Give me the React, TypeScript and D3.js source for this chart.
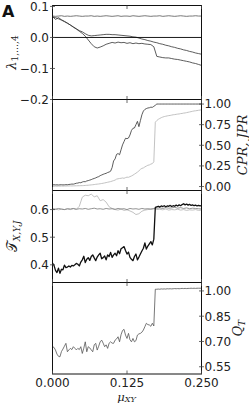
import React from "react";
import * as d3 from "d3";

// sampling grids of the coupling strength mu_XY
const MU_FINE = d3.range(101).map((i) => i * 0.0025);
const MU_COARSE = d3.range(51).map((i) => i * 0.005);

const X_TICKS = [0, 0.125, 0.25];
const LAMBDA_TICKS = [0.1, 0, -0.1, -0.2];
const PR_TICKS = [0, 0.25, 0.5, 0.75, 1];
const TAU_TICKS = [0.4, 0.5, 0.6];
const Q_TICKS = [0.55, 0.7, 0.85, 1];

// panel 1: Lyapunov exponents (coarse grid)
const LAMBDA1 = [
  0.069, 0.068, 0.069, 0.070, 0.068, 0.069, 0.068, 0.069, 0.070, 0.069,
  0.068, 0.069, 0.069, 0.070, 0.068, 0.069, 0.068, 0.069, 0.070, 0.069,
  0.068, 0.069, 0.070, 0.068, 0.069, 0.069, 0.068, 0.070, 0.069, 0.068,
  0.069, 0.070, 0.069, 0.068, 0.069, 0.069, 0.070, 0.068, 0.069, 0.070,
  0.069, 0.068, 0.069, 0.070, 0.069, 0.068, 0.069, 0.069, 0.070, 0.069, 0.069,
];
const LAMBDA2 = 0;
const LAMBDA3 = [
  0.066, 0.064, 0.060, 0.056, 0.051, 0.046, 0.040, 0.034, 0.028, 0.022,
  0.018, 0.012, 0.007, 0.005, 0.006, 0.007, 0.008, 0.009, 0.010, 0.010,
  0.009, 0.009, 0.008, 0.007, 0.006, 0.005, 0.004, 0.002, 0.001, -0.002,
  -0.005, -0.007, -0.010, -0.012, -0.015, -0.017, -0.020, -0.022, -0.025, -0.027,
  -0.030, -0.032, -0.035, -0.037, -0.040, -0.042, -0.045, -0.047, -0.050, -0.052, -0.054,
];
const LAMBDA4 = [
  0.068, 0.058, 0.064, 0.057, 0.052, 0.046, 0.040, 0.033, 0.027, 0.020,
  0.013, 0.004, -0.008, -0.020, -0.030, -0.034, -0.031, -0.027, -0.022, -0.019,
  -0.016, -0.018, -0.015, -0.017, -0.016, -0.019, -0.017, -0.020, -0.018, -0.020,
  -0.019, -0.021, -0.022, -0.023, -0.030, -0.061, -0.063, -0.065, -0.066, -0.066,
  -0.068, -0.070, -0.071, -0.073, -0.075, -0.077, -0.079, -0.082, -0.084, -0.087, -0.090,
];

// panel 2: phase relations (fine grid)
const CPR = [
  0.020, 0.022, 0.020, 0.021, 0.019, 0.021, 0.022, 0.020, 0.021, 0.023,
  0.022, 0.025, 0.027, 0.030, 0.029, 0.034, 0.040, 0.042, 0.048, 0.046,
  0.055, 0.060, 0.058, 0.068, 0.072, 0.078, 0.084, 0.092, 0.098, 0.105,
  0.114, 0.120, 0.132, 0.140, 0.148, 0.155, 0.160, 0.170, 0.176, 0.186,
  0.230, 0.310, 0.335, 0.390, 0.400, 0.385, 0.445, 0.505, 0.545, 0.585,
  0.580, 0.588, 0.625, 0.680, 0.706, 0.710, 0.750, 0.790, 0.726, 0.800,
  0.870, 0.915, 0.935, 0.945, 0.952, 0.955, 0.962, 0.960, 0.972, 0.985,
  1.000, 1.000, 1.000, 1.000, 1.000, 1.000, 1.000, 1.000, 1.000, 1.000,
  1.000, 1.000, 1.000, 1.000, 1.000, 1.000, 1.000, 1.000, 1.000, 1.000,
  1.000, 1.000, 1.000, 1.000, 1.000, 1.000, 1.000, 1.000, 1.000, 1.000, 1.000,
];
const JPR = [
  0.004, 0.004, 0.005, 0.004, 0.005, 0.005, 0.006, 0.005, 0.006, 0.006,
  0.007, 0.007, 0.008, 0.007, 0.008, 0.009, 0.009, 0.010, 0.010, 0.011,
  0.011, 0.012, 0.013, 0.015, 0.016, 0.018, 0.020, 0.022, 0.024, 0.027,
  0.029, 0.031, 0.034, 0.037, 0.040, 0.044, 0.048, 0.052, 0.056, 0.060,
  0.066, 0.072, 0.078, 0.090, 0.094, 0.098, 0.100, 0.104, 0.100, 0.108,
  0.114, 0.112, 0.120, 0.128, 0.138, 0.150, 0.162, 0.175, 0.190, 0.208,
  0.220, 0.226, 0.238, 0.248, 0.258, 0.262, 0.272, 0.278, 0.300, 0.780,
  0.800, 0.815, 0.825, 0.835, 0.842, 0.848, 0.852, 0.856, 0.860, 0.862,
  0.866, 0.870, 0.872, 0.875, 0.878, 0.880, 0.884, 0.886, 0.890, 0.892,
  0.896, 0.900, 0.904, 0.908, 0.912, 0.916, 0.918, 0.921, 0.924, 0.927, 0.930,
];

// panel 3: tau for X, Y (coarse) and joint J (fine)
const TAU_X = [
  0.603, 0.601, 0.604, 0.602, 0.600, 0.603, 0.602, 0.604, 0.601, 0.603,
  0.602, 0.604, 0.601, 0.603, 0.605, 0.602, 0.603, 0.601, 0.604, 0.602,
  0.603, 0.601, 0.604, 0.602, 0.603, 0.600, 0.604, 0.602, 0.603, 0.601,
  0.604, 0.602, 0.603, 0.601, 0.603, 0.605, 0.606, 0.604, 0.607, 0.605,
  0.606, 0.608, 0.605, 0.607, 0.604, 0.606, 0.603, 0.605, 0.604, 0.603, 0.602,
];
const TAU_Y = [
  0.600, 0.602, 0.599, 0.601, 0.600, 0.602, 0.600, 0.603, 0.601, 0.612,
  0.645, 0.652, 0.650, 0.656, 0.646, 0.650, 0.632, 0.636, 0.627, 0.610,
  0.604, 0.600, 0.598, 0.602, 0.597, 0.599, 0.595, 0.590, 0.582, 0.585,
  0.594, 0.598, 0.600, 0.603, 0.604, 0.600, 0.601, 0.599, 0.602, 0.598,
  0.600, 0.599, 0.601, 0.598, 0.600, 0.597, 0.599, 0.598, 0.600, 0.597, 0.598,
];
const TAU_J = [
  0.406, 0.398, 0.380, 0.372, 0.388, 0.369, 0.384, 0.382, 0.399, 0.390,
  0.392, 0.396, 0.392, 0.398, 0.396, 0.400, 0.405, 0.402, 0.396, 0.410,
  0.418, 0.431, 0.408, 0.420, 0.426, 0.416, 0.430, 0.436, 0.425, 0.415,
  0.428, 0.436, 0.442, 0.422, 0.426, 0.432, 0.418, 0.436, 0.430, 0.445,
  0.427, 0.436, 0.442, 0.433, 0.451, 0.440, 0.458, 0.462, 0.466, 0.452,
  0.439, 0.446, 0.427, 0.420, 0.415, 0.430, 0.439, 0.418, 0.428, 0.439,
  0.450, 0.460, 0.479, 0.457, 0.468, 0.476, 0.484, 0.472, 0.493, 0.608,
  0.610, 0.612, 0.609, 0.613, 0.611, 0.614, 0.610, 0.613, 0.612, 0.615,
  0.611, 0.614, 0.612, 0.616, 0.613, 0.617, 0.614, 0.618, 0.621, 0.617,
  0.620, 0.616, 0.619, 0.615, 0.617, 0.614, 0.616, 0.613, 0.615, 0.613, 0.614,
];

// panel 4: Q_T (fine grid)
const QT = [
  0.669, 0.665, 0.649, 0.625, 0.612, 0.609, 0.640, 0.655, 0.672, 0.689,
  0.639, 0.650, 0.659, 0.652, 0.669, 0.660, 0.650, 0.659, 0.652, 0.669,
  0.629, 0.660, 0.698, 0.639, 0.669, 0.662, 0.650, 0.639, 0.680, 0.689,
  0.649, 0.672, 0.698, 0.708, 0.690, 0.669, 0.680, 0.659, 0.690, 0.698,
  0.690, 0.689, 0.708, 0.715, 0.728, 0.698, 0.740, 0.765, 0.772, 0.738,
  0.718, 0.748, 0.710, 0.698, 0.718, 0.698, 0.705, 0.738, 0.745, 0.748,
  0.755, 0.768, 0.788, 0.808, 0.800, 0.798, 0.790, 0.808, 0.792, 1.010,
  1.010, 1.011, 1.010, 1.012, 1.011, 1.012, 1.011, 1.013, 1.012, 1.013,
  1.012, 1.013, 1.014, 1.013, 1.014, 1.013, 1.014, 1.015, 1.014, 1.015,
  1.014, 1.015, 1.015, 1.016, 1.015, 1.016, 1.015, 1.016, 1.016, 1.016, 1.016,
];

const W = 249;
const H = 403;
const LEFT = 52.5;
const RIGHT = 201.5;
const TICK_FONT = "DejaVu Sans";
const MATH_FONT = "DejaVu Serif";

const x = d3.scaleLinear().domain([0, 0.25]).range([LEFT, RIGHT]);

type Panel = {
  top: number;
  bottom: number;
  y: d3.ScaleLinear<number, number>;
  ticks: number[];
  fmt: (n: number) => string;
  side: "left" | "right";
};

const panels: Panel[] = [
  { top: 5.5, bottom: 99.5, y: d3.scaleLinear().domain([-0.2, 0.103]).range([99.5, 5.5]), ticks: LAMBDA_TICKS, fmt: d3.format(".1f"), side: "left" },
  { top: 99.5, bottom: 190.5, y: d3.scaleLinear().domain([-0.048, 1.055]).range([190.5, 99.5]), ticks: PR_TICKS, fmt: d3.format(".2f"), side: "right" },
  { top: 190.5, bottom: 282.5, y: d3.scaleLinear().domain([0.336, 0.669]).range([282.5, 190.5]), ticks: TAU_TICKS, fmt: d3.format(".1f"), side: "left" },
  { top: 282.5, bottom: 374, y: d3.scaleLinear().domain([0.507, 1.05]).range([374, 282.5]), ticks: Q_TICKS, fmt: d3.format(".2f"), side: "right" },
];

function linePath(mu: number[], vals: number[], y: d3.ScaleLinear<number, number>) {
  return d3
    .line<number>()
    .x((_, i) => x(mu[i]))
    .y((d) => y(d))(vals) as string;
}

export default function App() {
  const [p1, p2, p3, p4] = panels;
  const series = [
    { d: linePath(MU_COARSE, LAMBDA1, p1.y), stroke: "#555", w: 0.8 },
    { d: linePath(MU_COARSE, LAMBDA3, p1.y), stroke: "#333", w: 0.8 },
    { d: linePath(MU_COARSE, LAMBDA4, p1.y), stroke: "#333", w: 0.8 },
    { d: linePath(MU_FINE, JPR, p2.y), stroke: "#bbb", w: 0.9 },
    { d: linePath(MU_FINE, CPR, p2.y), stroke: "#333", w: 0.8 },
    { d: linePath(MU_COARSE, TAU_Y, p3.y), stroke: "#bbb", w: 0.9 },
    { d: linePath(MU_COARSE, TAU_X, p3.y), stroke: "#777", w: 0.8 },
    { d: linePath(MU_FINE, TAU_J, p3.y), stroke: "#111", w: 1.3 },
    { d: linePath(MU_FINE, QT, p4.y), stroke: "#555", w: 0.8 },
  ];

  return (
    <>
      <style>{"body{margin:0}"}</style>
      <svg width={W} height={H} style={{ display: "block", background: "#fff" }}>
        {series.map((s, i) => (
          <path key={i} d={s.d} fill="none" stroke={s.stroke} strokeWidth={s.w} strokeLinejoin="round" />
        ))}
        {/* zero eigenvalue */}
        <line x1={LEFT} x2={RIGHT} y1={p1.y(LAMBDA2)} y2={p1.y(LAMBDA2)} stroke="#000" strokeWidth={0.9} />

        {panels.map((p, pi) => (
          <g key={pi}>
            <rect x={LEFT} y={p.top} width={RIGHT - LEFT} height={p.bottom - p.top} fill="none" stroke="#111" strokeWidth={1} />
            {X_TICKS.map((t) => (
              <g key={t}>
                <line x1={x(t)} x2={x(t)} y1={p.top} y2={p.top + 3.5} stroke="#444" strokeWidth={0.8} />
                <line x1={x(t)} x2={x(t)} y1={p.bottom - 3.5} y2={p.bottom} stroke="#444" strokeWidth={0.8} />
              </g>
            ))}
            {p.ticks.map((t) => {
              const yy = p.y(t);
              const bx = p.side === "left" ? LEFT : RIGHT;
              return (
                <g key={t}>
                  <line x1={bx - 2.5} x2={bx + 2.5} y1={yy} y2={yy} stroke="#444" strokeWidth={0.8} />
                  <text
                    x={p.side === "left" ? 49 : 204.5}
                    y={yy}
                    dy="0.36em"
                    textAnchor={p.side === "left" ? "end" : "start"}
                    fontFamily={TICK_FONT}
                    fontSize={12}
                    fill="#222"
                  >
                    {p.fmt(t)}
                  </text>
                </g>
              );
            })}
          </g>
        ))}

        {X_TICKS.map((t) => (
          <text key={t} x={x(t)} y={387} textAnchor="middle" fontFamily={TICK_FONT} fontSize={12} fill="#222">
            {d3.format(".3f")(t)}
          </text>
        ))}

        {/* axis titles */}
        <text x={126.5} y={400.5} textAnchor="middle" fontFamily={MATH_FONT} fill="#222">
          <tspan fontStyle="italic" fontSize={11.5}>μ</tspan>
          <tspan fontStyle="italic" fontSize={8} dy={1.5}>XY</tspan>
        </text>
        <text transform={`translate(15.5,${(p1.top + p1.bottom) / 2}) rotate(-90)`} textAnchor="middle" fontFamily={MATH_FONT} fill="#222">
          <tspan fontStyle="italic" fontSize={13}>λ</tspan>
          <tspan fontSize={9} dy={2.5}>1,…,4</tspan>
        </text>
        <text transform={`translate(246.5,${(p2.top + p2.bottom) / 2}) rotate(-90)`} textAnchor="middle" fontFamily={MATH_FONT} fontStyle="italic" fontSize={13} fill="#222">
          CPR, JPR
        </text>
        <text transform={`translate(17,${(p3.top + p3.bottom) / 2}) rotate(-90)`} textAnchor="middle" fontFamily={MATH_FONT} fill="#222">
          <tspan fontSize={14}>𝒯</tspan>
          <tspan fontStyle="italic" fontSize={9} dy={2.5}>X,Y,J</tspan>
        </text>
        <text transform={`translate(242,${(p4.top + p4.bottom) / 2}) rotate(-90)`} textAnchor="middle" fontFamily={MATH_FONT} fill="#222">
          <tspan fontStyle="italic" fontSize={13}>Q</tspan>
          <tspan fontStyle="italic" fontSize={9} dy={2.5}>T</tspan>
        </text>

        <text x={2} y={17} fontFamily={TICK_FONT} fontWeight="bold" fontSize={16} fill="#111">
          A
        </text>
      </svg>
    </>
  );
}
